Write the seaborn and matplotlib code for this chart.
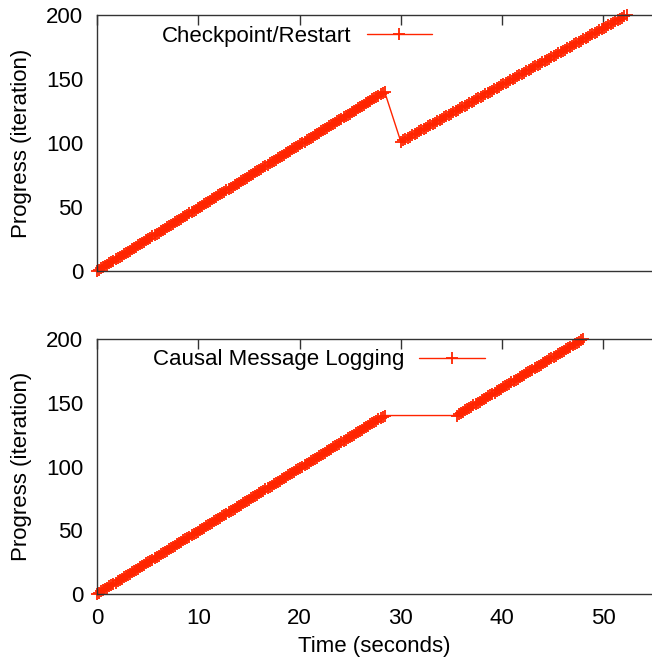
import numpy as np
import pandas as pd
import matplotlib
matplotlib.use("Agg")
import matplotlib.pyplot as plt
import seaborn as sns

# Progress segments: each segment runs from a start
# (time, iteration) to an end (time, iteration) at a steady iteration rate.
cr_start_time = [0.0, 30.0]
cr_end_time = [28.4, 52.3]
cr_start_iter = [0, 101]
cr_end_iter = [140, 200]

cml_start_time = [0.0, 35.5]
cml_end_time = [28.4, 48.0]
cml_start_iter = [0, 140]
cml_end_iter = [140, 200]

x_ticks = [0, 10, 20, 30, 40, 50]
y_ticks = [0, 50, 100, 150, 200]

RED = "#ff2400"
FS = 16

sns.set_theme(style="white")
plt.rcParams['font.family'] = ['Liberation Sans', 'DejaVu Sans']
plt.rcParams['text.color'] = 'black'
plt.rcParams['axes.labelcolor'] = 'black'


def build_trace(t0, t1, i0, i1):
    """One point per iteration, spaced at the segment's seconds-per-iteration."""
    rows = []
    for ts, te, s, e in zip(t0, t1, i0, i1):
        iters = np.arange(s, e + 1)
        sec_per_iter = (te - ts) / (e - s)
        for it in iters:
            rows.append({"time": ts + (it - s) * sec_per_iter, "progress": it})
    return pd.DataFrame(rows)


def style_axes(ax):
    ax.set_xlim(0, 54.8)
    ax.set_ylim(0, 200)
    ax.set_xticks(x_ticks)
    ax.set_yticks(y_ticks)
    ax.tick_params(direction="in", length=7, width=1, color="#333333",
                   top=True, right=False, labelsize=FS, pad=10,
                   labelcolor="black")
    for side in ["left", "bottom", "top"]:
        ax.spines[side].set_visible(True)
        ax.spines[side].set_color("#333333")
        ax.spines[side].set_linewidth(1)
    ax.spines["right"].set_visible(False)
    ax.set_ylabel("Progress (iteration)", fontsize=FS)
    ax.yaxis.set_label_coords(-0.118, 0.5)


df_cr = build_trace(cr_start_time, cr_end_time, cr_start_iter, cr_end_iter)
df_cml = build_trace(cml_start_time, cml_end_time, cml_start_iter, cml_end_iter)

fig = plt.figure(figsize=(6.52, 6.64), dpi=100)
ax_top = fig.add_axes([0.1488, 0.5919, 0.8512, 0.3855])
ax_bot = fig.add_axes([0.1488, 0.1054, 0.8512, 0.3840])

for ax, df, label, anchor in [
    (ax_top, df_cr, "Checkpoint/Restart", (0.604, 0.915)),
    (ax_bot, df_cml, "Causal Message Logging", (0.699, 0.918)),
]:
    sns.lineplot(data=df, x="time", y="progress", ax=ax, sort=False,
                 estimator=None, color=RED, linewidth=1, marker="+",
                 markersize=9, markeredgecolor=RED, markeredgewidth=1.3,
                 clip_on=False, label=label)
    style_axes(ax)
    ax.legend(loc="center right", bbox_to_anchor=anchor, frameon=False,
              markerfirst=False, numpoints=1, fontsize=FS, borderpad=0,
              borderaxespad=0, handlelength=2.95, handletextpad=0.68)

ax_top.set_xlabel("")
ax_top.tick_params(labelbottom=False)
ax_bot.set_xlabel("Time (seconds)", fontsize=FS)
ax_bot.xaxis.set_label_coords(0.5, -0.165)

fig.savefig("out.png", dpi=100)
